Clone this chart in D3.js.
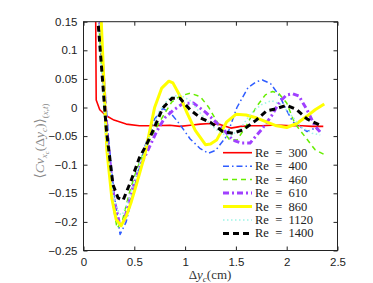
<!DOCTYPE html>
<html>
<head>
<meta charset="utf-8">
<script src="https://cdn.jsdelivr.net/npm/d3@7"></script>
<style>
  body { margin: 0; background: #fff; }
  svg { display: block; }
</style>
</head>
<body>
<section></section>
<script>
// values (dy_c in cm, correlation)
const reLabels = ['Re\u2002=\u2002300', 'Re\u2002=\u2002400', 'Re\u2002=\u2002460', 'Re\u2002=\u2002610', 'Re\u2002=\u2002860', 'Re\u2002=\u20021120', 'Re\u2002=\u20021400'];

const re300X = [0.115, 0.125, 0.16, 0.22, 0.3, 0.42, 0.55, 0.7, 0.85, 0.95, 1.05, 1.15, 1.25, 1.35, 1.45, 1.55, 1.65, 1.75, 1.85, 1.95, 2.05, 2.15, 2.25, 2.36];
const re300Y = [0.3, 0.013, -0.004, -0.014, -0.022, -0.029, -0.032, -0.032, -0.031, -0.033, -0.031, -0.029, -0.028, -0.03, -0.036, -0.033, -0.032, -0.032, -0.031, -0.031, -0.032, -0.032, -0.033, -0.033];

const re400X = [0.1, 0.16, 0.25, 0.3, 0.36, 0.42, 0.5, 0.6, 0.7, 0.78, 0.85, 0.95, 1.05, 1.15, 1.23, 1.3, 1.41, 1.51, 1.62, 1.7, 1.76, 1.84, 1.93, 2.0, 2.06, 2.15, 2.2, 2.28, 2.33];
const re400Y = [0.3, 0.15, -0.06, -0.15, -0.222, -0.2, -0.14, -0.07, -0.02, -0.002, -0.008, -0.03, -0.055, -0.072, -0.08, -0.075, -0.05, 0.0, 0.035, 0.045, 0.048, 0.042, 0.02, -0.005, -0.025, -0.036, -0.042, -0.036, -0.042];

const re460X = [0.1, 0.15, 0.22, 0.28, 0.33, 0.38, 0.45, 0.52, 0.6, 0.7, 0.8, 0.87, 0.95, 1.05, 1.15, 1.23, 1.34, 1.44, 1.51, 1.6, 1.7, 1.79, 1.86, 1.92, 2.0, 2.08, 2.18, 2.28, 2.38];
const re460Y = [0.32, 0.15, -0.05, -0.16, -0.211, -0.2, -0.15, -0.11, -0.075, -0.04, -0.01, 0.01, 0.02, 0.025, 0.019, 0.001, -0.033, -0.057, -0.057, -0.033, 0.001, 0.022, 0.028, 0.025, 0.008, -0.028, -0.051, -0.074, -0.083];

const re610X = [0.1, 0.16, 0.24, 0.3, 0.35, 0.4, 0.47, 0.55, 0.62, 0.72, 0.8, 0.89, 0.98, 1.08, 1.2, 1.3, 1.38, 1.47, 1.55, 1.64, 1.75, 1.85, 1.93, 2.0, 2.06, 2.12, 2.2, 2.28, 2.34];
const re610Y = [0.32, 0.15, -0.06, -0.16, -0.2, -0.198, -0.15, -0.105, -0.08, -0.042, -0.018, -0.004, 0.007, 0.008, -0.008, -0.025, -0.039, -0.057, -0.062, -0.062, -0.039, -0.015, 0.01, 0.022, 0.024, 0.02, -0.004, -0.033, -0.045];

const re860X = [0.1, 0.175, 0.23, 0.28, 0.32, 0.37, 0.42, 0.47, 0.52, 0.6, 0.7, 0.77, 0.84, 0.88, 0.95, 1.02, 1.1, 1.2, 1.25, 1.31, 1.41, 1.5, 1.6, 1.7, 1.8, 1.9, 2.0, 2.1, 2.2, 2.28, 2.37];
const re860Y = [0.33, 0.15, -0.075, -0.16, -0.195, -0.207, -0.19, -0.165, -0.135, -0.085, 0.0, 0.034, 0.046, 0.043, 0.02, -0.01, -0.04, -0.065, -0.064, -0.057, -0.025, -0.012, -0.013, -0.018, -0.025, -0.032, -0.035, -0.028, -0.015, -0.004, 0.006];

const re1120X = [0.1, 0.15, 0.22, 0.3, 0.35, 0.38, 0.45, 0.55, 0.65, 0.75, 0.85, 0.95, 1.05, 1.15, 1.25, 1.35, 1.45, 1.55, 1.65, 1.75, 1.85, 1.95, 2.05, 2.15, 2.25, 2.33];
const re1120Y = [0.3, 0.15, -0.05, -0.16, -0.185, -0.188, -0.16, -0.1, -0.05, -0.005, 0.018, 0.022, 0.012, -0.01, -0.03, -0.045, -0.05, -0.035, -0.01, 0.005, 0.012, 0.005, -0.015, -0.035, -0.045, -0.048];

const re1400X = [0.1, 0.143, 0.225, 0.29, 0.34, 0.39, 0.47, 0.55, 0.62, 0.7, 0.78, 0.87, 0.95, 1.05, 1.15, 1.25, 1.37, 1.47, 1.57, 1.7, 1.8, 1.9, 2.0, 2.1, 2.2, 2.34];
const re1400Y = [0.3, 0.15, -0.039, -0.135, -0.158, -0.162, -0.127, -0.088, -0.065, -0.034, -0.001, 0.016, 0.016, -0.004, -0.018, -0.026, -0.042, -0.045, -0.039, -0.022, -0.006, -0.002, 0.004, -0.004, -0.02, -0.032];

const xTicks = [0, 0.5, 1, 1.5, 2, 2.5];
const yTicks = [0.15, 0.1, 0.05, 0, -0.05, -0.1, -0.15, -0.2, -0.25];

const allX = [re300X, re400X, re460X, re610X, re860X, re1120X, re1400X];
const allY = [re300Y, re400Y, re460Y, re610Y, re860Y, re1120Y, re1400Y];

// line styles, same order as reLabels
const styles = [
  { color: '#ff0000', width: 1.6, dash: null },
  { color: '#2f5dff', width: 1.5, dash: '6,3,1.5,3' },
  { color: '#66ee00', width: 1.5, dash: '5,4' },
  { color: '#a040ff', width: 3, dash: '6,3,2,3' },
  { color: '#ffff00', width: 3, dash: null },
  { color: '#9ff5e6', width: 1.6, dash: '1.5,2.5' },
  { color: '#000000', width: 3, dash: '6,4' }
];

const W = 373, H = 283;
const mLeft = 83.5, mRight = 337.5, mTop = 21.7, mBottom = 250.5;

const svg = d3.select('section')
  .append('svg')
  .attr('width', W)
  .attr('height', H);

const xscale = d3.scaleLinear().domain([0, 2.5]).range([mLeft, mRight]);
const yscale = d3.scaleLinear().domain([-0.25, 0.15]).range([mBottom, mTop]);

svg.append('clipPath').attr('id', 'plot')
  .append('rect')
  .attr('x', mLeft).attr('y', mTop)
  .attr('width', mRight - mLeft).attr('height', mBottom - mTop);

const line = d3.line().x(d => xscale(d[0])).y(d => yscale(d[1]));

const plot = svg.append('g').attr('clip-path', 'url(#plot)');
allX.forEach((xs, i) => {
  const pts = xs.map((x, j) => [x, allY[i][j]]);
  plot.append('path')
    .datum(pts)
    .attr('d', line)
    .attr('fill', 'none')
    .attr('stroke', styles[i].color)
    .attr('stroke-width', styles[i].width)
    .attr('stroke-dasharray', styles[i].dash)
    .attr('stroke-linejoin', 'round');
});

// matlab style box with inward ticks
const fmt = d => (d < 0 ? '\u2212' : '') + String(Math.abs(+d.toFixed(2)));

const axisStyle = g => {
  g.select('.domain').remove();
  g.selectAll('.tick line').attr('stroke', '#222');
  g.selectAll('.tick text')
    .attr('fill', '#222')
    .style('font-family', '"Liberation Sans", Arial, sans-serif')
    .style('font-size', '11.5px');
};

svg.append('g')
  .attr('transform', `translate(0,${mBottom})`)
  .call(d3.axisBottom(xscale).tickValues(xTicks).tickFormat(fmt).tickSizeInner(-4).tickSizeOuter(0).tickPadding(7))
  .call(axisStyle);
svg.append('g')
  .attr('transform', `translate(0,${mTop})`)
  .call(d3.axisTop(xscale).tickValues(xTicks).tickFormat('').tickSizeInner(-4).tickSizeOuter(0))
  .call(axisStyle);
svg.append('g')
  .attr('transform', `translate(${mLeft},0)`)
  .call(d3.axisLeft(yscale).tickValues(yTicks).tickFormat(fmt).tickSizeInner(-4).tickSizeOuter(0).tickPadding(6))
  .call(axisStyle);
svg.append('g')
  .attr('transform', `translate(${mRight},0)`)
  .call(d3.axisRight(yscale).tickValues(yTicks).tickFormat('').tickSizeInner(-4).tickSizeOuter(0))
  .call(axisStyle);

svg.append('rect')
  .attr('x', mLeft).attr('y', mTop)
  .attr('width', mRight - mLeft).attr('height', mBottom - mTop)
  .attr('fill', 'none')
  .attr('stroke', '#222')
  .attr('stroke-width', 1);

// legend
const serif = '"Liberation Serif", "DejaVu Serif", serif';
const legend = svg.append('g');
reLabels.forEach((lab, i) => {
  const y = 152.7 + i * 13.45;
  legend.append('line')
    .attr('x1', 223).attr('x2', 252)
    .attr('y1', y).attr('y2', y)
    .attr('stroke', styles[i].color)
    .attr('stroke-width', styles[i].width)
    .attr('stroke-dasharray', styles[i].dash);
  legend.append('text')
    .attr('x', 255).attr('y', y + 4)
    .style('font-family', serif)
    .style('font-size', '12.5px')
    .attr('fill', '#222')
    .text(lab);
});

// axis labels
const xl = svg.append('text')
  .attr('x', 210).attr('y', 279)
  .attr('text-anchor', 'middle')
  .style('font-family', serif)
  .style('font-size', '13px')
  .attr('fill', '#333');
xl.append('tspan').text('\u0394');
xl.append('tspan').style('font-style', 'italic').text('y');
xl.append('tspan').attr('dy', 3).style('font-size', '9px').style('font-style', 'italic').text('c');
xl.append('tspan').attr('dy', -3).text('(cm)');

const yl = svg.append('text')
  .attr('transform', 'translate(44,141) rotate(-90)')
  .attr('text-anchor', 'middle')
  .style('font-family', serif)
  .style('font-size', '13.5px')
  .attr('fill', '#888');
yl.append('tspan').text('\u27E8');
yl.append('tspan').style('font-style', 'italic').text('Cv');
yl.append('tspan').attr('dy', 3).style('font-size', '9px').style('font-style', 'italic').text('x');
yl.append('tspan').attr('dy', 2).style('font-size', '7px').style('font-style', 'italic').text('c');
yl.append('tspan').attr('dy', -5).text('(\u0394');
yl.append('tspan').style('font-style', 'italic').text('y');
yl.append('tspan').attr('dy', 3).style('font-size', '9px').style('font-style', 'italic').text('c');
yl.append('tspan').attr('dy', -3).text(')\u27E9');
yl.append('tspan').attr('dy', 4).style('font-size', '9px').text('(');
yl.append('tspan').style('font-size', '9px').style('font-style', 'italic').text('x');
yl.append('tspan').style('font-size', '9px').text(',');
yl.append('tspan').style('font-size', '9px').style('font-style', 'italic').text('t');
yl.append('tspan').style('font-size', '9px').text(')');
</script>
</body>
</html>
